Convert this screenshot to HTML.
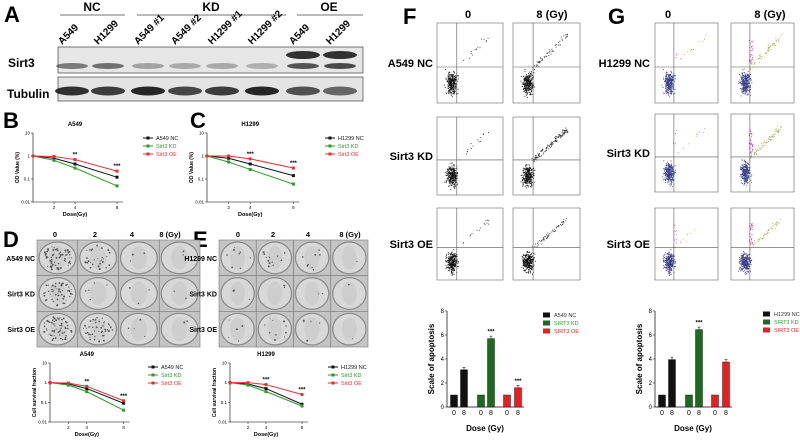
<!DOCTYPE html>
<html><head><meta charset="utf-8">
<style>
html,body{margin:0;padding:0;background:#fff;}
svg{display:block;font-family:"Liberation Sans",Arial,sans-serif;}
.pl{font-weight:bold;font-size:22px;}
.bl{font-weight:bold;font-size:12px;}
</style></head>
<body>
<svg id="fig" width="800" height="444" viewBox="0 0 800 444" xmlns="http://www.w3.org/2000/svg">
<g id="panelA">
<text class="pl" x="4" y="22">A</text>
<text class="bl" x="92" y="11" text-anchor="middle">NC</text>
<line x1="60" y1="15" x2="125" y2="15" stroke="#444" stroke-width="0.8"/>
<text class="bl" x="211" y="11" text-anchor="middle">KD</text>
<line x1="137" y1="15" x2="286" y2="15" stroke="#444" stroke-width="0.8"/>
<text class="bl" x="329" y="11" text-anchor="middle">OE</text>
<line x1="297" y1="15" x2="363" y2="15" stroke="#444" stroke-width="0.8"/>
<g id="lanes" font-size="10" font-weight="bold"></g>
<text class="bl" x="8" y="67" font-size="11">Sirt3</text>
<text class="bl" x="7" y="98" font-size="11">Tubulin</text>
<rect x="58" y="47" width="305" height="26" fill="#e6e6e6" stroke="#555" stroke-width="0.8"/>
<rect x="58" y="77" width="305" height="24" fill="#e4e4e4" stroke="#555" stroke-width="0.8"/>
<g id="bands"></g>
</g>
<g id="charts"></g>
<g id="plates"></g>
<g id="flow"></g>
<g id="bars"></g>
</svg>
<script>
// ---- data ----
const doses = [0, 2, 4, 8];
const bNC = [1, 0.8, 0.45, 0.12];
const bKD = [1, 0.65, 0.3, 0.05];
const bOE = [1, 0.95, 0.7, 0.22];
const cNC = [1, 0.8, 0.45, 0.14];
const cKD = [1, 0.55, 0.26, 0.06];
const cOE = [1, 1.0, 0.75, 0.3];
const dNC = [1, 0.85, 0.5, 0.09];
const dKD = [1, 0.75, 0.35, 0.04];
const dOE = [1, 0.95, 0.65, 0.12];
const eNC = [1, 0.85, 0.5, 0.08];
const eKD = [1, 0.75, 0.35, 0.065];
const eOE = [1, 1.0, 0.8, 0.25];
const yTickLabels = ["10", "1", "0.1", "0.01"];
const yTickValues = [10, 1, 0.1, 0.01];
const xTickLabels = ["2", "4", "8"];
const fGroups = ["A549 NC", "SIRT3 KD", "SIRT3 OE"];
const fValues = [1, 3.1, 1, 5.7, 1, 1.6];
const gGroups = ["H1299 NC", "SIRT3 KD", "SIRT3 OE"];
const gValues = [1, 3.95, 1, 6.45, 1, 3.75];
const barTicks = [0, 2, 4, 6, 8];
const laneLabels = ["A549","H1299","A549 #1","A549 #2","H1299 #1","H1299 #2","A549","H1299"];
const sirt3Band = [0.55,0.6,0.35,0.3,0.3,0.28,0.75,0.8];
const tubBand = [0.85,0.8,0.9,0.75,0.8,0.9,0.7,0.6];

const NS = "http://www.w3.org/2000/svg";
function el(tag, attrs, parent, text){
  const e = document.createElementNS(NS, tag);
  for (const k in attrs) e.setAttribute(k, attrs[k]);
  if (text !== undefined) e.textContent = text;
  parent.appendChild(e); return e;
}
// ---- blot ----
const lanesG = document.getElementById('lanes');
const bandsG = document.getElementById('bands');
const laneX = [72,108,148,185,222,262,303,340];
laneLabels.forEach((t,i)=>{
  const tx = el('text',{x:laneX[i]-10,y:45,transform:`rotate(-45 ${laneX[i]-10} 45)`},lanesG,t);
  
  
  const b = el('ellipse',{cx:laneX[i],cy:66,rx:16,ry:3,fill:'#222',opacity:sirt3Band[i]},bandsG);
  
  
  const t2 = el('ellipse',{cx:laneX[i],cy:91,rx:17,ry:4.5,fill:'#111',opacity:tubBand[i]},bandsG);
  
  
  if(i>=6){
    const o = el('ellipse',{cx:laneX[i],cy:55,rx:17,ry:4,fill:'#111',opacity:0.85},bandsG);
    
    
  }
});
// ---- line charts ----
const charts = document.getElementById('charts');
function lineChart(cfg){
  const g = el('g',{},charts);
  
  
  const xs = d => cfg.x0 + d*cfg.kx;
  const ys = v => cfg.yb - (Math.log10(v)+2)/3*(cfg.yb-cfg.yt);
  const t = el('text',{x:(cfg.x0+xs(8))/2,y:cfg.yt-7,'font-size':6,'font-weight':'bold','text-anchor':'middle'},g,cfg.title);
  
  
  el('line',{x1:cfg.x0,y1:cfg.yt,x2:cfg.x0,y2:cfg.yb,stroke:'#000','stroke-width':0.6},g);
  el('line',{x1:cfg.x0,y1:cfg.yb,x2:xs(8)+6,y2:cfg.yb,stroke:'#000','stroke-width':0.6},g);
  yTickValues.forEach((v,i)=>{
    el('line',{x1:cfg.x0-2,y1:ys(v),x2:cfg.x0,y2:ys(v),stroke:'#000','stroke-width':0.5},g);
    const l = el('text',{x:cfg.x0-3,y:ys(v)+1.5,'font-size':4.5,'text-anchor':'end'},g,yTickLabels[i]);
    
    
  });
  [2,4,8].forEach((d,i)=>{
    el('line',{x1:xs(d),y1:cfg.yb,x2:xs(d),y2:cfg.yb+2,stroke:'#000','stroke-width':0.5},g);
    const l = el('text',{x:xs(d),y:cfg.yb+7,'font-size':4.5,'text-anchor':'middle'},g,xTickLabels[i]);
    
    
  });
  const xl = el('text',{x:(cfg.x0+xs(8))/2,y:cfg.yb+14,'font-size':5.5,'font-weight':'bold','text-anchor':'middle'},g,'Dose(Gy)');
  
  
  const yl = el('text',{x:cfg.x0-14,y:(cfg.yt+cfg.yb)/2,'font-size':5,'font-weight':'bold','text-anchor':'middle',transform:`rotate(-90 ${cfg.x0-14} ${(cfg.yt+cfg.yb)/2})`},g,cfg.ylabel);
  
  
  const cols = ['#111','#2a9a2a','#e53030'];
  cfg.series.forEach((s,si)=>{
    const pts = doses.map((d,i)=>xs(d)+','+ys(s[i])).join(' ');
    const pl = el('polyline',{points:pts,fill:'none',stroke:cols[si],'stroke-width':1},g);
    
    
    doses.forEach((d,i)=>{
      const p = el('rect',{x:xs(d)-1.5,y:ys(s[i])-1.5,width:3,height:3,fill:cols[si]},g);
      
      
    });
    const lg = el('g',{},g);
    
    
    el('line',{x1:cfg.lx,y1:cfg.ly+si*8,x2:cfg.lx+10,y2:cfg.ly+si*8,stroke:cols[si],'stroke-width':1},lg);
    el('rect',{x:cfg.lx+3.5,y:cfg.ly+si*8-1.5,width:3,height:3,fill:cols[si]},lg);
    el('text',{x:cfg.lx+13,y:cfg.ly+si*8+2,'font-size':5.5,fill:cols[si]},lg,cfg.names[si]);
  });
  cfg.stars.forEach(([d,v,s])=>{
    el('text',{x:xs(d),y:ys(v)-3,'font-size':6,'text-anchor':'middle','font-weight':'bold'},g,s);
  });
}
lineChart({name:'panel-b-chart',title:'A549',x0:33,kx:10.5,yt:133,yb:202,ylabel:'OD Value (%)',lx:143,ly:138,series:[bNC,bKD,bOE],names:['A549 NC','Sirt3 KD','Sirt3 OE'],stars:[[4,bOE[2],'**'],[8,bOE[3],'***']]});
lineChart({name:'panel-c-chart',title:'H1299',x0:207,kx:10.8,yt:133,yb:202,ylabel:'OD Value (%)',lx:325,ly:138,series:[cNC,cKD,cOE],names:['H1299 NC','Sirt3 KD','Sirt3 OE'],stars:[[4,cOE[2],'***'],[8,cOE[3],'***']]});
lineChart({name:'panel-d-survival-chart',title:'A549',x0:50,kx:9.2,yt:363,yb:422,ylabel:'Cell survival fraction',lx:148,ly:367,series:[dNC,dKD,dOE],names:['A549 NC','Sirt3 KD','Sirt3 OE'],stars:[[4,dOE[2],'**'],[8,dOE[3],'***']]});
lineChart({name:'panel-e-survival-chart',title:'H1299',x0:230,kx:9,yt:363,yb:422,ylabel:'Cell survival fraction',lx:328,ly:367,series:[eNC,eKD,eOE],names:['H1299 NC','Sirt3 KD','Sirt3 OE'],stars:[[4,eOE[2],'***'],[8,eOE[3],'***']]});
[['B',3,128],['C',190,128],['D',3,247],['E',193,247],['F',403,24],['G',608,24]].forEach(([t,x,y])=>{
  const l = el('text',{x:x,y:y,class:'pl'},charts,t);
  
  
});
// ---- plates ----
const plates = document.getElementById('plates');
function plateGrid(name,x0,x1,hdrX,rows,density){
  const g = el('g',{},plates);
  
  
  const y0=240,y1=347, cw=(x1-x0)/4, rh=(y1-y0)/3;
  ['0','2','4','8 (Gy)'].forEach((h,i)=>{
    const t = el('text',{x:hdrX[i],y:237,'font-size':7.5,'font-weight':'bold','text-anchor':'middle'},g,h);
    
    
  });
  let seed = 7;
  const rnd=()=>{seed=(seed*16807)%2147483647;return seed/2147483647;};
  for(let r=0;r<3;r++){
    const t = el('text',{x:x0-2,y:y0+rh*r+rh/2+3,'font-size':7,'font-weight':'bold','text-anchor':'end'},g,rows[r]);
    
    
    for(let c=0;c<4;c++){
      const cx=x0+cw*c, cy=y0+rh*r;
      el('rect',{x:cx,y:cy,width:cw,height:rh,fill:'#c4c4c4',stroke:'#777','stroke-width':0.6},g);
      const w = el('ellipse',{cx:cx+cw/2,cy:cy+rh/2,rx:cw/2-2,ry:rh/2-2,fill:'#d8d8d8',stroke:'#888','stroke-width':1.2},g);
      
      
      el('ellipse',{cx:cx+cw/2,cy:cy+rh/2,rx:cw/5,ry:rh/2-6,fill:'#cecece'},g);
      const n = density[r][c];
      for(let k=0;k<n;k++){
        const a=rnd()*6.283, rr=Math.sqrt(rnd())*0.85;
        el('circle',{cx:cx+cw/2+Math.cos(a)*rr*(cw/2-3),cy:cy+rh/2+Math.sin(a)*rr*(rh/2-3),r:0.5+rnd()*0.5,fill:'#555'},g);
      }
    }
  }
}
plateGrid('panel-d-colony-plates',37,200,[55,95,132,170],['A549 NC','Sirt3 KD','Sirt3 OE'],[[70,30,3,2],[55,5,3,2],[70,45,4,2]]);
plateGrid('panel-e-colony-plates',219,368,[238,273,308,350],['H1299 NC','Sirt3 KD','Sirt3 OE'],[[8,12,8,1],[3,2,2,1],[5,10,5,1]]);
// ---- flow ----
const flow = document.getElementById('flow');
function flowPanel(name,hdr,rowLabels,lblX,cols,rows,colored,spread){
  const g = el('g',{},flow);
  
  
  hdr.forEach(([t,x])=>{
    const h = el('text',{x:x,y:18,'font-size':11,'font-weight':'bold','text-anchor':'middle'},g,t);
    
    
  });
  let seed=11;
  const rnd=()=>{seed=(seed*16807)%2147483647;return seed/2147483647;};
  const gauss=()=> (rnd()+rnd()+rnd()-1.5)/1.5;
  rows.forEach(([y0,y1],r)=>{
    const t = el('text',{x:lblX,y:(y0+y1)/2+4,'font-size':11,'font-weight':'bold','text-anchor':'end'},g,rowLabels[r]);
    
    
    cols.forEach(([x0,x1],c)=>{
      const w=x1-x0,h=y1-y0;
      const b = el('rect',{x:x0,y:y0,width:w,height:h,fill:'#fff',stroke:'#666','stroke-width':0.6},g);
      
      
      const n = 300;
      for(let k=0;k<n;k++){
        const px=x0+w*0.22+gauss()*w*0.12, py=y0+h*0.75+gauss()*h*0.2;
        el('rect',{x:px,y:py,width:0.9,height:0.9,fill:colored?'#3b3f8a':'#111'},g);
      }
      const ns = c===1 ? spread[r] : 15;
      for(let k=0;k<ns;k++){
        const u=rnd();
        let px,py,fill='#555';
        if(colored && rnd()<0.35){px=x0+w*0.28+rnd()*w*0.06;py=y0+h*(0.2+rnd()*0.3);fill='#e040c0';}
        else{px=x0+w*(0.3+u*0.5)+gauss()*3;py=y0+h*(0.55-u*0.4)+gauss()*4;fill=colored?'#a8a850':'#333';}
        el('rect',{x:px,y:py,width:0.9,height:0.9,fill:fill},g);
      }
      el('line',{x1:x0+w*0.3,y1:y0,x2:x0+w*0.3,y2:y1,stroke:'#555','stroke-width':0.6},g);
      el('line',{x1:x0,y1:y0+h*0.55,x2:x1,y2:y0+h*0.55,stroke:'#555','stroke-width':0.6},g);
    });
  });
}
flowPanel('panel-f-flow-plots',[['0',468],['8 (Gy)',552]],['A549 NC','Sirt3 KD','Sirt3 OE'],433,[[437,503],[513,580]],[[23,103],[117,195],[208,280]],false,[60,140,60]);
flowPanel('panel-g-flow-plots',[['0',668],['8 (Gy)',770]],['H1299 NC','Sirt3 KD','Sirt3 OE'],650,[[655,718],[731,794]],[[23,103],[114,192],[208,280]],true,[90,120,80]);
// ---- bar charts ----
const bars = document.getElementById('bars');
function barChart(cfg){
  const g = el('g',{},bars);
  
  
  const yt=311,yb=407;
  const ys=v=>yb-v/8*(yb-yt);
  el('line',{x1:cfg.x0,y1:yt,x2:cfg.x0,y2:yb,stroke:'#000','stroke-width':0.7},g);
  el('line',{x1:cfg.x0,y1:yb,x2:cfg.x0+77,y2:yb,stroke:'#000','stroke-width':0.7},g);
  barTicks.forEach(v=>{
    el('line',{x1:cfg.x0-2,y1:ys(v),x2:cfg.x0,y2:ys(v),stroke:'#000','stroke-width':0.5},g);
    const l=el('text',{x:cfg.x0-3,y:ys(v)+2,'font-size':6,'text-anchor':'end'},g,String(v));
    
    
  });
  const cols=['#111','#1e6a1e','#e52020'];
  const offs=[7,17,34,44,60,71];
  cfg.values.forEach((v,i)=>{
    const x=cfg.x0+offs[i];
    const r=el('rect',{x:x-3.5,y:ys(v),width:7,height:yb-ys(v),fill:cols[Math.floor(i/2)],stroke:'#000','stroke-width':0.4},g);
    
    
    if(i%2){
      el('line',{x1:x,y1:ys(v),x2:x,y2:ys(v)-2.5,stroke:'#000','stroke-width':0.5},g);
      el('line',{x1:x-1.5,y1:ys(v)-2.5,x2:x+1.5,y2:ys(v)-2.5,stroke:'#000','stroke-width':0.5},g);
    }
    const l=el('text',{x:x,y:yb+8,'font-size':7,'text-anchor':'middle'},g,i%2?'8':'0');
    
    
  });
  cfg.stars.forEach(i=>{
    el('text',{x:cfg.x0+offs[i],y:ys(cfg.values[i])-5,'font-size':6,'font-weight':'bold','text-anchor':'middle'},g,'***');
  });
  const xl=el('text',{x:cfg.x0+38,y:431,'font-size':8,'font-weight':'bold','text-anchor':'middle'},g,'Dose (Gy)');
  
  
  const yc=(yt+yb)/2;
  const yl=el('text',{x:cfg.x0-13,y:yc,'font-size':8,'font-weight':'bold','text-anchor':'middle',transform:`rotate(-90 ${cfg.x0-13} ${yc})`},g,'Scale of apoptosis');
  
  
  cfg.groups.forEach((t,i)=>{
    const lg=el('g',{},g);
    
    
    el('rect',{x:cfg.lx,y:cfg.ly+i*8-2.5,width:7,height:5,fill:cols[i]},lg);
    el('text',{x:cfg.lx+11,y:cfg.ly+i*8+2,'font-size':5.5,fill:i==0?'#333':cols[i]==='#1e6a1e'?'#2a9a2a':cols[i]},lg,t);
  });
}
barChart({name:'panel-f-apoptosis-chart',x0:447,values:fValues,groups:fGroups,stars:[3,5],lx:543,ly:315});
barChart({name:'panel-g-apoptosis-chart',x0:655,values:gValues,groups:gGroups,stars:[3],lx:763,ly:314});
</script>
</body></html>
